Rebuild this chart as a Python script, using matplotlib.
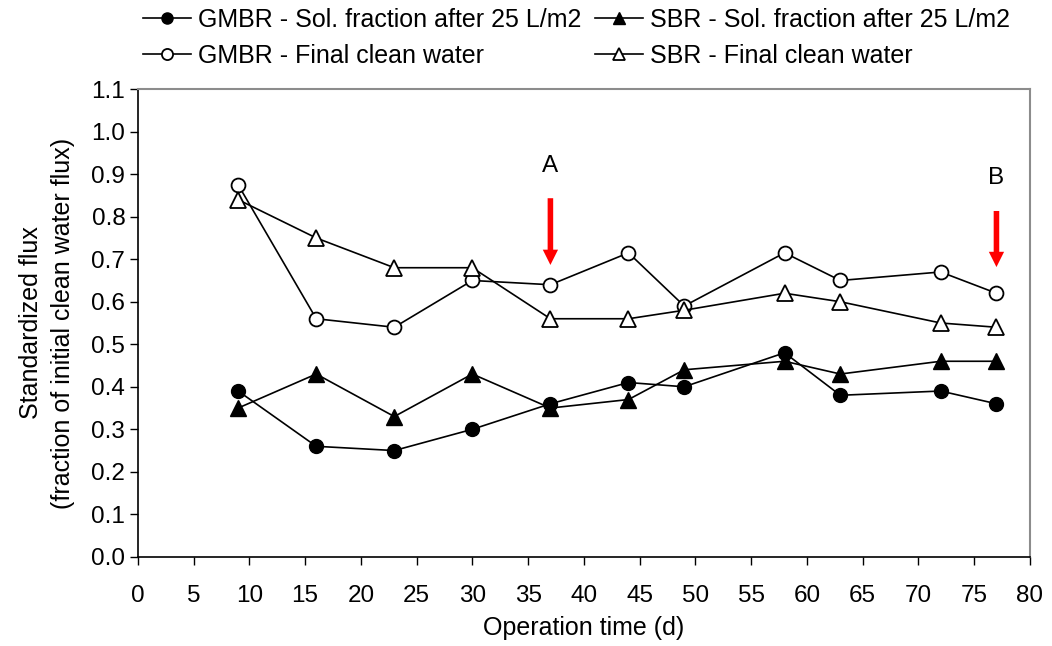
import matplotlib.pyplot as plt

plt.rcParams['font.family'] = ['Liberation Sans', 'DejaVu Sans']

# operation days
days = [9, 16, 23, 30, 37, 44, 49, 58, 63, 72, 77]

# standardized flux values
gmbr_sol = [0.39, 0.26, 0.25, 0.30, 0.36, 0.41, 0.40, 0.48, 0.38, 0.39, 0.36]
sbr_sol = [0.35, 0.43, 0.33, 0.43, 0.35, 0.37, 0.44, 0.46, 0.43, 0.46, 0.46]
gmbr_final = [0.875, 0.56, 0.54, 0.65, 0.64, 0.715, 0.59, 0.715, 0.65, 0.67, 0.62]
sbr_final = [0.84, 0.75, 0.68, 0.68, 0.56, 0.56, 0.58, 0.62, 0.60, 0.55, 0.54]

# arrow markers (label, day)
arrow_labels = ["A", "B"]
arrow_days = [37, 77]

fig = plt.figure(figsize=(10.52, 6.46), dpi=100)
ax = fig.add_axes([0.131, 0.138, 0.848, 0.724])

ms = 10
lw = 1.2
l1, = ax.plot(days, gmbr_sol, color="black", lw=lw, marker="o", ms=ms,
              label="GMBR - Sol. fraction after 25 L/m2")
l2, = ax.plot(days, gmbr_final, color="black", lw=lw, marker="o", ms=ms,
              mfc="white", mew=1.3, label="GMBR - Final clean water")
l3, = ax.plot(days, sbr_sol, color="black", lw=lw, marker="^", ms=ms + 1,
              label="SBR - Sol. fraction after 25 L/m2")
l4, = ax.plot(days, sbr_final, color="black", lw=lw, marker="^", ms=ms + 1,
              mfc="white", mew=1.3, label="SBR - Final clean water")

# red arrows
arrow_tops = [0.85, 0.82]
arrow_ends = [0.68, 0.675]
label_y = [0.92, 0.89]
for lab, d, yt, ye, ly in zip(arrow_labels, arrow_days, arrow_tops, arrow_ends, label_y):
    ax.annotate("", xy=(d, ye), xytext=(d, yt),
                arrowprops=dict(arrowstyle="simple,head_length=1.1,head_width=1.1,tail_width=0.4",
                                color="red", lw=0))
    ax.text(d, ly, lab, ha="center", va="center", fontsize=17.5)

ax.set_xlim(0, 80)
ax.set_ylim(0, 1.1)
ax.set_xticks(range(0, 81, 5))
ax.set_yticks([i / 10 for i in range(0, 12)])
ax.set_yticklabels(["%.1f" % (i / 10) for i in range(0, 12)])
ax.tick_params(direction="out", length=6, width=1, labelsize=17.5)
ax.tick_params(axis="x", pad=14)
ax.tick_params(axis="y", pad=3)

for s in ["top", "right"]:
    ax.spines[s].set_color("#8c8c8c")
    ax.spines[s].set_linewidth(1.5)
for s in ["left", "bottom"]:
    ax.spines[s].set_linewidth(1.2)

ax.set_xlabel("Operation time (d)", fontsize=18, labelpad=7)
ax.set_ylabel("Standardized flux\n(fraction of initial clean water flux)", fontsize=18,
              labelpad=12, linespacing=1.4)

leg = fig.legend(handles=[l1, l2, l3, l4], ncol=2, loc="upper left",
                 bbox_to_anchor=(143 / 1052, 1 - 8 / 646), frameon=False, fontsize=18,
                 handlelength=1.9, handletextpad=0.3, columnspacing=0.55,
                 labelspacing=0.47, borderaxespad=0, borderpad=0, markerscale=0.8)

fig.savefig("out.png", dpi=100)
